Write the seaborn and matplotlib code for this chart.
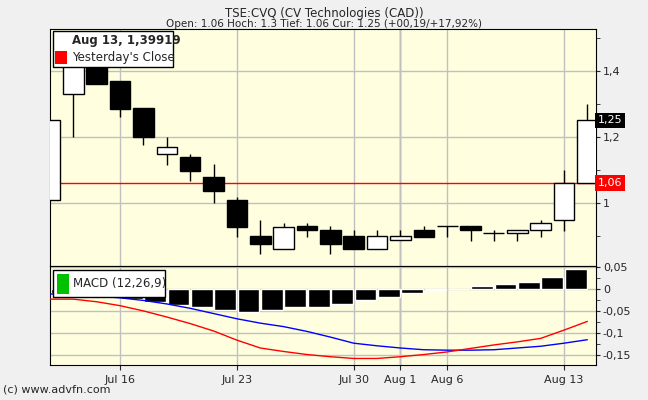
import numpy as np
import pandas as pd
import seaborn as sns
import matplotlib.pyplot as plt
from matplotlib.patches import Rectangle

opens  = [1.01, 1.329, 1.42, 1.370, 1.288, 1.147, 1.139, 1.079, 1.009, 0.899, 0.860, 0.929,
          0.918, 0.899, 0.860, 0.888, 0.918, 0.929, 0.929, 0.909, 0.909, 0.918, 0.947, 1.060]
closes = [1.25, 1.416, 1.359, 1.286, 1.199, 1.169, 1.098, 1.037, 0.928, 0.877, 0.928, 0.917,
          0.877, 0.860, 0.899, 0.899, 0.898, 0.929, 0.917, 0.909, 0.918, 0.938, 1.060, 1.250]
highs  = [1.25, 1.42, 1.43, 1.370, 1.288, 1.199, 1.148, 1.118, 1.018, 0.948, 0.939, 0.939,
          0.929, 0.918, 0.918, 0.918, 0.929, 0.929, 0.929, 0.918, 0.918, 0.948, 1.099, 1.300]
lows   = [1.01, 1.199, 1.359, 1.259, 1.177, 1.116, 1.067, 0.999, 0.898, 0.846, 0.860, 0.898,
          0.846, 0.860, 0.860, 0.888, 0.898, 0.898, 0.886, 0.886, 0.886, 0.898, 0.916, 1.060]
hist = [-0.010, -0.012, -0.017, -0.023, -0.030, -0.036, -0.040, -0.049, -0.053, -0.049, -0.042, -0.040,
        -0.035, -0.026, -0.017, -0.010, -0.001, 0.0005, 0.008, 0.012, 0.017, 0.028, 0.046]
macd_blue = [-0.011, -0.013, -0.016, -0.020, -0.026, -0.034, -0.044, -0.056, -0.068, -0.078, -0.086, -0.097,
             -0.110, -0.124, -0.130, -0.135, -0.139, -0.140, -0.140, -0.139, -0.135, -0.131, -0.124, -0.116]
macd_red = [-0.023, -0.023, -0.029, -0.038, -0.050, -0.064, -0.079, -0.096, -0.117, -0.135, -0.143, -0.150,
            -0.155, -0.159, -0.159, -0.155, -0.150, -0.144, -0.136, -0.128, -0.121, -0.113, -0.094, -0.074]
date_pos = [3, 8, 13, 15, 17, 22]
date_labels = ['Jul 16', 'Jul 23', 'Jul 30', 'Aug 1', 'Aug 6', 'Aug 13']
prev_close = 1.06
last_close = 1.25

sns.set_style('ticks')
plt.rcParams['font.family'] = ['DejaVu Sans']
plt.rcParams['font.size'] = 8

fig = plt.figure(figsize=(6.48, 4.0), dpi=100, facecolor='#f0f0f0')
bg = '#ffffe0'
ax = fig.add_axes([50/648, 1-266/400, 546/648, 237/400], facecolor=bg)
ax2 = fig.add_axes([50/648, 1-365/400, 546/648, 99/400], facecolor=bg, sharex=ax)

x = np.arange(len(opens))
for i in x:
    o, c = opens[i], closes[i]
    ax.vlines(i, lows[i], highs[i], color='black', lw=1, zorder=2)
    fc = 'white' if c > o else 'black'
    h = abs(c - o)
    if h < 0.002:
        ax.hlines(o, i-0.45, i+0.45, color='black', lw=1, zorder=3)
    else:
        ax.add_patch(Rectangle((i-0.44, min(o, c)), 0.88, h, facecolor=fc, edgecolor='black', lw=1, zorder=3))

ax.axhline(prev_close, color='red', lw=1, zorder=1)
ax.set_xlim(0, 23.37)
ax.set_ylim(0.809, 1.527)
ax.set_yticks([1.0, 1.2, 1.4])
ax.set_yticks([0.9, 1.1, 1.3, 1.5], minor=True)
ax.set_yticklabels(['1', '1,2', '1,4'])
ax.yaxis.tick_right()
ax.set_xticks(date_pos)
ax.tick_params(axis='x', labelbottom=False, length=0)
ax.grid(True, which='major', color='#c0c0c0', lw=1)
ax.set_axisbelow(True)
ax.axvline(15, color='#808080', lw=1, zorder=0.5)
ax.text(1.003, (last_close-0.809)/(1.527-0.809), '1,25', transform=ax.transAxes, color='white', va='center',
        bbox=dict(boxstyle='square,pad=0.25', fc='black', ec='none'), fontsize=8)
ax.text(1.003, (prev_close-0.809)/(1.527-0.809), '1,06', transform=ax.transAxes, color='white', va='center',
        bbox=dict(boxstyle='square,pad=0.25', fc='red', ec='none'), fontsize=8)
ax.add_patch(Rectangle((0.005, 0.84), 0.22, 0.15, transform=ax.transAxes, fc='white', ec='black', lw=1, zorder=5))
ax.text(0.04, 0.952, 'Aug 13, 1,39919', transform=ax.transAxes, fontweight='bold', va='center', fontsize=8.5, zorder=6)
ax.add_patch(Rectangle((0.01, 0.852), 0.022, 0.055, transform=ax.transAxes, fc='red', ec='none', zorder=6))
ax.text(0.04, 0.88, "Yesterday's Close", transform=ax.transAxes, va='center', fontsize=8.5, zorder=6)

fig.text(0.5, 0.957, 'TSE:CVQ (CV Technologies (CAD))', ha='center', fontsize=8.5)
fig.text(0.5, 0.932, 'Open: 1.06 Hoch: 1.3 Tief: 1.06 Cur: 1.25 (+00,19/+17,92%)', ha='center', fontsize=7.5)
fig.text(0.005, 0.02, '(c) www.advfn.com', fontsize=8)

ax2.bar(np.arange(len(hist)) + 0.5, hist, width=0.93, color='black', zorder=2)
df = pd.DataFrame({'x': x, 'blue': macd_blue, 'red': macd_red})
sns.lineplot(data=df, x='x', y='blue', color='blue', lw=1, ax=ax2, zorder=3)
sns.lineplot(data=df, x='x', y='red', color='red', lw=1, ax=ax2, zorder=3)
ax2.set_ylim(-0.174, 0.053)
ax2.set_yticks([0.05, 0, -0.05, -0.1, -0.15])
ax2.set_yticks([0.025, -0.025, -0.075, -0.125], minor=True)
ax2.set_yticklabels(['0,05', '0', '-0,05', '-0,1', '-0,15'])
ax2.yaxis.tick_right()
ax2.set_xticks(date_pos)
ax2.set_xticklabels(date_labels)
ax2.set_xlabel('')
ax2.set_ylabel('')
ax2.grid(True, which='major', color='#c0c0c0', lw=1)
ax2.set_axisbelow(True)
ax2.axvline(15, color='#808080', lw=1, zorder=0.5)
ax2.add_patch(Rectangle((0.005, 0.69), 0.205, 0.27, transform=ax2.transAxes, fc='white', ec='black', lw=1, zorder=5))
ax2.add_patch(Rectangle((0.012, 0.72), 0.022, 0.2, transform=ax2.transAxes, fc='#00c000', ec='none', zorder=6))
ax2.text(0.042, 0.825, 'MACD (12,26,9)', transform=ax2.transAxes, va='center', fontsize=8.5, zorder=6)

for a in (ax, ax2):
    for s in a.spines.values():
        s.set_color('black')
    a.tick_params(axis='y', which='both', length=3, pad=2)

fig.savefig('out.png', dpi=100, facecolor=fig.get_facecolor())
